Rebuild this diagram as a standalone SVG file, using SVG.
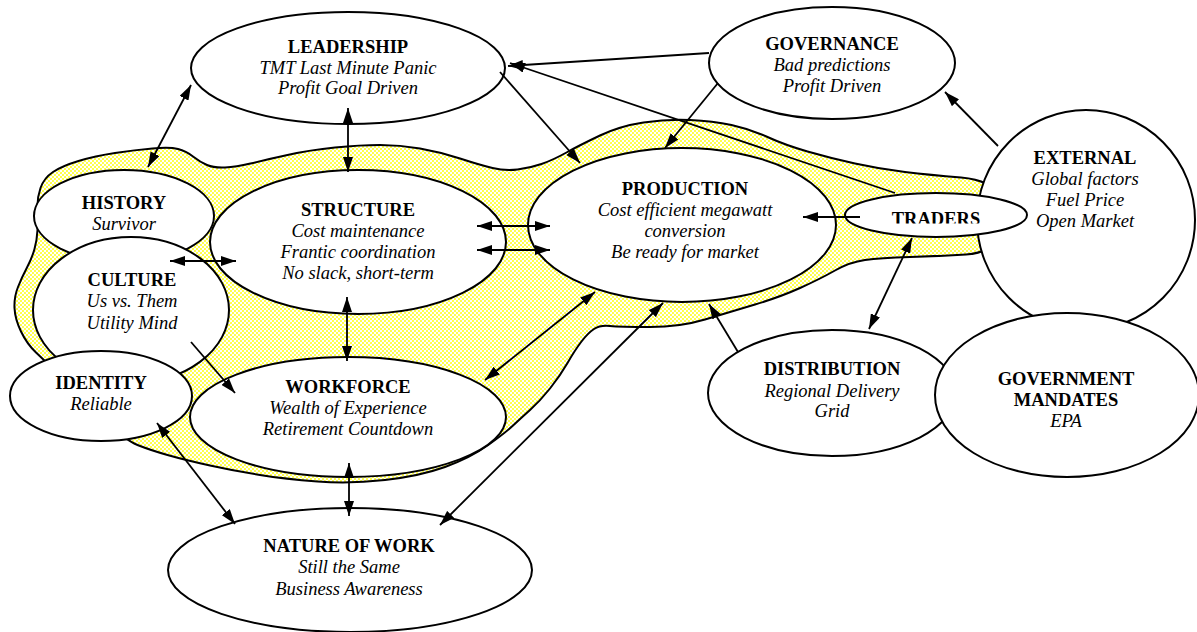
<svg xmlns="http://www.w3.org/2000/svg" width="1197" height="632" viewBox="0 0 1197 632">
  <defs>
    <!-- fine yellow dot screen used for the core blob -->
    <pattern id="dots" width="4" height="4" patternUnits="userSpaceOnUse">
      <rect width="4" height="4" fill="#ffffff"/>
      <circle cx="1" cy="1" r="0.95" fill="#ffff00"/>
      <circle cx="3" cy="3" r="0.95" fill="#ffff00"/>
    </pattern>
    <marker id="ah" viewBox="0 0 15 10" refX="15" refY="5" markerWidth="15" markerHeight="10" markerUnits="userSpaceOnUse" orient="auto-start-reverse">
      <path d="M0,0 L15,5 L0,10 Z" fill="#000"/>
    </marker>
    <!-- the traders label sits low in its box and loses its bottom edge -->
    <clipPath id="traders-clip">
      <rect x="840" y="190" width="190" height="33.5"/>
    </clipPath>
    <style>
      .node ellipse { fill:#ffffff; stroke:#000; stroke-width:2; }
      .t { font-family:"Liberation Serif","Times New Roman",serif; font-size:18.5px; text-anchor:middle; fill:#000; }
      .b { font-weight:bold; }
      .i { font-style:italic; }
      .conn line { stroke:#000; stroke-width:1.8; }
      .blob { fill:url(#dots); stroke:#000; stroke-width:2; }
    </style>
  </defs>

  <!-- shared core region -->
  <path class="blob" d="M37.5,209 Q37,198 40.5,188 Q44,178 53,172 Q62,166 78.5,161 Q95,156 115,153 Q135,150 152.5,148.5 Q170,147 178,149 Q186,151 193,156.5 Q200,162 207,165 Q214,168 225,167.5 Q236,167 250.5,163.5 Q265,160 287.5,155 Q310,150 335,147.5 Q360,145 380,145 Q400,145 420,148.5 Q440,152 460,158.5 Q480,165 492.5,168 Q505,171 517.5,169.5 Q530,168 541.5,164 Q553,160 566.5,152.5 Q580,145 600,135.5 Q620,126 643.5,122.5 Q667,119 690,120 Q713,121 731.5,125 Q750,129 767.5,137 Q785,145 807.5,151.5 Q830,158 855,163.5 Q880,169 905,172 Q930,175 961,177.5 Q992,180 1000,197.5 Q1008,215 1000,234 Q992,253 966,254.5 Q940,256 910,257 Q880,258 865,260 Q850,262 835,270.5 Q820,279 800,288 Q780,297 755,304.5 Q730,312 705,319.5 Q680,327 650,327 Q620,327 610,326 Q600,325 594,329 Q588,333 581.5,341.5 Q575,350 567.5,363 Q560,376 550,388.5 Q540,401 530,410 Q520,419 512.5,426 Q505,433 487.5,445.5 Q470,458 445,467 Q420,476 385,480 Q350,484 317.5,481.5 Q285,479 260,475 Q235,471 210,465.5 Q185,460 167.5,455 Q150,450 137.5,445 Q125,440 105,420 Q85,400 65,380.5 Q45,361 36,352.5 Q27,344 21,331.5 Q15,319 14.5,308 Q14,297 18,287 Q22,277 27,267.5 Q32,258 34.5,249 Q37,240 37.5,230 Q38,220 37.5,209 Z"/>

  <g id="leadership" class="node">
    <ellipse cx="348" cy="68" rx="157" ry="56"/>
    <text class="t b" x="348" y="53">LEADERSHIP</text>
    <text class="t i" x="348" y="74">TMT Last Minute Panic</text>
    <text class="t i" x="348" y="94">Profit Goal Driven</text>
  </g>

  <g id="governance" class="node">
    <ellipse cx="832" cy="63" rx="123" ry="56"/>
    <text class="t b" x="832" y="50">GOVERNANCE</text>
    <text class="t i" x="832" y="71">Bad predictions</text>
    <text class="t i" x="832" y="92">Profit Driven</text>
  </g>

  <g id="external" class="node">
    <ellipse cx="1086" cy="220" rx="109" ry="110"/>
    <text class="t b" x="1085" y="164">EXTERNAL</text>
    <text class="t i" x="1085" y="185">Global factors</text>
    <text class="t i" x="1085" y="206">Fuel Price</text>
    <text class="t i" x="1085" y="227">Open Market</text>
  </g>

  <g id="traders" class="node">
    <ellipse cx="936" cy="215" rx="91" ry="22"/>
    <text class="t b" x="936" y="225" clip-path="url(#traders-clip)">TRADERS</text>
  </g>

  <g id="production" class="node">
    <ellipse cx="682" cy="225" rx="154" ry="77"/>
    <text class="t b" x="685" y="195">PRODUCTION</text>
    <text class="t i" x="685" y="216">Cost efficient megawatt</text>
    <text class="t i" x="685" y="237">conversion</text>
    <text class="t i" x="685" y="258">Be ready for market</text>
  </g>

  <g id="structure" class="node">
    <ellipse cx="358" cy="242" rx="148" ry="72"/>
    <text class="t b" x="358" y="216">STRUCTURE</text>
    <text class="t i" x="358" y="237">Cost maintenance</text>
    <text class="t i" x="358" y="258">Frantic coordination</text>
    <text class="t i" x="358" y="279">No slack, short-term</text>
  </g>

  <g id="history" class="node">
    <ellipse cx="124" cy="216" rx="90" ry="46"/>
    <text class="t b" x="124" y="209">HISTORY</text>
    <text class="t i" x="124" y="230">Survivor</text>
  </g>

  <g id="culture" class="node">
    <ellipse cx="131" cy="310" rx="98" ry="73"/>
    <text class="t b" x="132" y="286">CULTURE</text>
    <text class="t i" x="132" y="307">Us vs. Them</text>
    <text class="t i" x="132" y="329">Utility Mind</text>
  </g>

  <g id="identity" class="node">
    <ellipse cx="101" cy="396" rx="91" ry="45"/>
    <text class="t b" x="101" y="389">IDENTITY</text>
    <text class="t i" x="101" y="410">Reliable</text>
  </g>

  <g id="workforce" class="node">
    <ellipse cx="348" cy="417" rx="158" ry="60"/>
    <text class="t b" x="348" y="393">WORKFORCE</text>
    <text class="t i" x="348" y="414">Wealth of Experience</text>
    <text class="t i" x="348" y="435">Retirement Countdown</text>
  </g>

  <g id="nature-of-work" class="node">
    <ellipse cx="350" cy="570" rx="182" ry="62"/>
    <text class="t b" x="349" y="552">NATURE OF WORK</text>
    <text class="t i" x="349" y="573">Still the Same</text>
    <text class="t i" x="349" y="595">Business Awareness</text>
  </g>

  <g id="distribution" class="node">
    <ellipse cx="832" cy="393" rx="124" ry="63"/>
    <text class="t b" x="832" y="375">DISTRIBUTION</text>
    <text class="t i" x="832" y="397">Regional Delivery</text>
    <text class="t i" x="832" y="417">Grid</text>
  </g>

  <g id="government-mandates" class="node">
    <ellipse cx="1067" cy="395" rx="132" ry="82"/>
    <text class="t b" x="1066" y="385">GOVERNMENT</text>
    <text class="t b" x="1066" y="406">MANDATES</text>
    <text class="t i" x="1066" y="427">EPA</text>
  </g>

  <g id="connectors" class="conn">
    <line x1="191" y1="85" x2="148" y2="167" marker-start="url(#ah)" marker-end="url(#ah)"/>
    <line x1="348" y1="108" x2="348" y2="172" marker-start="url(#ah)" marker-end="url(#ah)"/>
    <line x1="500" y1="72" x2="580" y2="163" marker-end="url(#ah)"/>
    <line x1="709" y1="53" x2="508" y2="66" marker-end="url(#ah)"/>
    <line x1="895" y1="193" x2="510" y2="63" marker-end="url(#ah)"/>
    <line x1="718" y1="83" x2="665" y2="148" marker-end="url(#ah)"/>
    <line x1="998" y1="146" x2="945" y2="92" marker-end="url(#ah)"/>
    <line x1="860" y1="217" x2="803" y2="217" marker-end="url(#ah)"/>
    <line x1="912" y1="238" x2="869" y2="329" marker-start="url(#ah)" marker-end="url(#ah)"/>
    <line x1="738" y1="352" x2="709" y2="304" marker-end="url(#ah)"/>
    <line x1="477" y1="226" x2="550" y2="226" marker-start="url(#ah)" marker-end="url(#ah)"/>
    <line x1="477" y1="250" x2="550" y2="250" marker-start="url(#ah)" marker-end="url(#ah)"/>
    <line x1="170" y1="261" x2="236" y2="261" marker-start="url(#ah)" marker-end="url(#ah)"/>
    <line x1="347" y1="297" x2="347" y2="361" marker-start="url(#ah)" marker-end="url(#ah)"/>
    <line x1="191" y1="342" x2="235" y2="393" marker-end="url(#ah)"/>
    <line x1="485" y1="380" x2="595" y2="292" marker-start="url(#ah)" marker-end="url(#ah)"/>
    <line x1="440" y1="525" x2="663" y2="303" marker-start="url(#ah)" marker-end="url(#ah)"/>
    <line x1="157" y1="423" x2="235" y2="524" marker-start="url(#ah)" marker-end="url(#ah)"/>
    <line x1="349" y1="463" x2="349" y2="516" marker-start="url(#ah)" marker-end="url(#ah)"/>
  </g>
</svg>
